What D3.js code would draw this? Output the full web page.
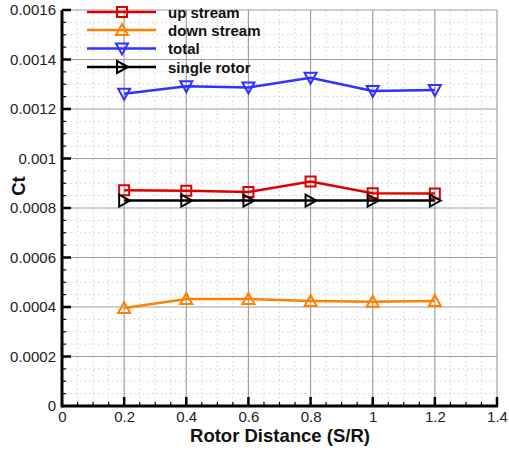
<!DOCTYPE html>
<html><head><meta charset="utf-8">
<script src="https://cdn.jsdelivr.net/npm/d3@7"></script>
<style>body{margin:0;background:#fff}svg{display:block}</style>
</head><body><svg id="c" width="509" height="450"></svg>
<script>
const distances = [0.2, 0.4, 0.6, 0.8, 1.0, 1.2];
const upStream = [0.000872, 0.000870, 0.000865, 0.000907, 0.000860, 0.000859];
const downStream = [0.000396, 0.000432, 0.000432, 0.000424, 0.000421, 0.000424];
const total = [0.001262, 0.001292, 0.001287, 0.001326, 0.001273, 0.001277];
const singleRotor = [0.00083, 0.00083, 0.00083, 0.00083, 0.00083, 0.00083];
const xTicks = [0, 0.2, 0.4, 0.6, 0.8, 1, 1.2, 1.4];
const yTicks = [0, 0.0002, 0.0004, 0.0006, 0.0008, 0.001, 0.0012, 0.0014, 0.0016];
const seriesNames = ["up stream", "down stream", "total", "single rotor"];
const seriesColors = ["#dd0000", "#ff8000", "#3030ff", "#000000"];
const seriesMarkers = ["square", "up", "down", "right"];

const svg = d3.select("#c");
const L = 62, R = 497, T = 10, B = 406;
const x = d3.scaleLinear().domain([0, 1.4]).range([L, R]);
const y = d3.scaleLinear().domain([0, 0.0016]).range([B, T]);
const FONT = "Liberation Sans, Arial, Helvetica, sans-serif";

// minor grid
const xMinor = d3.range(0, 1.4001, 0.05).filter(v => Math.abs(v/0.2 - Math.round(v/0.2)) > 1e-6);
const yMinor = d3.range(0, 0.0016001, 0.00005).filter(v => Math.abs(v/0.0002 - Math.round(v/0.0002)) > 1e-6);
const g = svg.append("g");
g.selectAll(".xm").data(xMinor).enter().append("line")
  .attr("x1", d => x(d)).attr("x2", d => x(d)).attr("y1", T).attr("y2", B)
  .attr("stroke", "#d0d0d0").attr("stroke-width", 1).attr("stroke-dasharray", "1.5,3");
g.selectAll(".ym").data(yMinor).enter().append("line")
  .attr("y1", d => y(d)).attr("y2", d => y(d)).attr("x1", L).attr("x2", R)
  .attr("stroke", "#d0d0d0").attr("stroke-width", 1).attr("stroke-dasharray", "1.5,3");
// major grid
g.selectAll(".xM").data(xTicks.slice(1)).enter().append("line")
  .attr("x1", d => x(d)).attr("x2", d => x(d)).attr("y1", T).attr("y2", B)
  .attr("stroke", "#a0a0a0").attr("stroke-width", 1.2);
g.selectAll(".yM").data(yTicks.slice(1)).enter().append("line")
  .attr("y1", d => y(d)).attr("y2", d => y(d)).attr("x1", L).attr("x2", R)
  .attr("stroke", "#a0a0a0").attr("stroke-width", 1.2);

// axes
const fmtY = d => d === 0 ? "0" : String(+d.toFixed(4));
const xAxis = d3.axisBottom(x).tickValues(xTicks).tickSize(0).tickPadding(5).tickFormat(d => String(+d.toFixed(1)));
const yAxis = d3.axisLeft(y).tickValues(yTicks).tickSize(0).tickPadding(6).tickFormat(fmtY);
const gx = svg.append("g").attr("transform", `translate(0,${B})`).call(xAxis);
const gy = svg.append("g").attr("transform", `translate(${L},0)`).call(yAxis);
[gx, gy].forEach(a => {
  a.select(".domain").remove();
  a.selectAll("text").attr("font-family", FONT).attr("font-size", 15).attr("fill", "#222");
});
// inward ticks
svg.selectAll(".xt").data(xTicks.slice(1)).enter().append("line")
  .attr("x1", d => x(d)).attr("x2", d => x(d)).attr("y1", B).attr("y2", B - 9).attr("stroke", "#000").attr("stroke-width", 2.5);
svg.selectAll(".xmt").data(xMinor).enter().append("line")
  .attr("x1", d => x(d)).attr("x2", d => x(d)).attr("y1", B).attr("y2", B - 4).attr("stroke", "#000").attr("stroke-width", 1.2);
svg.selectAll(".yt").data(yTicks.slice(1)).enter().append("line")
  .attr("y1", d => y(d)).attr("y2", d => y(d)).attr("x1", L).attr("x2", L + 9).attr("stroke", "#000").attr("stroke-width", 2.5);
svg.selectAll(".ymt").data(yMinor).enter().append("line")
  .attr("y1", d => y(d)).attr("y2", d => y(d)).attr("x1", L).attr("x2", L + 4).attr("stroke", "#000").attr("stroke-width", 1.2);
svg.append("line").attr("x1", L).attr("x2", R + 1).attr("y1", B).attr("y2", B).attr("stroke", "#000").attr("stroke-width", 3);
svg.append("line").attr("x1", L).attr("x2", L).attr("y1", T).attr("y2", B + 1.5).attr("stroke", "#000").attr("stroke-width", 3);

// titles
svg.append("text").attr("x", 280).attr("y", 442).attr("text-anchor", "middle")
  .attr("font-family", FONT).attr("font-weight", "bold").attr("font-size", 18.5).attr("fill", "#111")
  .text("Rotor Distance (S/R)");
svg.append("text").attr("transform", "translate(25,186) rotate(-90)").attr("text-anchor", "middle")
  .attr("font-family", FONT).attr("font-weight", "bold").attr("font-size", 18.5).attr("fill", "#111")
  .text("Ct");

function marker(sel, type, color) {
  const s = 5;
  let p;
  if (type === "square") p = `M${-s},${-s}H${s}V${s}H${-s}Z`;
  else if (type === "up") p = `M0,${-s-1}L${s+1},${s}L${-s-1},${s}Z`;
  else if (type === "down") p = `M0,${s+1}L${s+1},${-s}L${-s-1},${-s}Z`;
  else p = `M${s+1},0L${-s},${-s-1}L${-s},${s+1}Z`;
  sel.append("path").attr("d", p).attr("fill", "none").attr("stroke", color).attr("stroke-width", 2);
}

const allSeries = [upStream, downStream, total, singleRotor];
const line = d3.line().x((d, i) => x(distances[i])).y(d => y(d));
allSeries.forEach((vals, k) => {
  svg.append("path").datum(vals).attr("d", line).attr("fill", "none")
    .attr("stroke", seriesColors[k]).attr("stroke-width", 2.5);
  vals.forEach((v, i) => {
    const mg = svg.append("g").attr("transform", `translate(${x(distances[i])},${y(v)})`);
    marker(mg, seriesMarkers[k], seriesColors[k]);
  });
});

// legend
const legY = [12, 30, 48.5, 67];
seriesNames.forEach((n, k) => {
  svg.append("line").attr("x1", 87).attr("x2", 156).attr("y1", legY[k]).attr("y2", legY[k])
    .attr("stroke", seriesColors[k]).attr("stroke-width", 2.5);
  const mg = svg.append("g").attr("transform", `translate(122,${legY[k]})`);
  marker(mg, seriesMarkers[k], seriesColors[k]);
  svg.append("text").attr("x", 168).attr("y", legY[k] + 5.5).attr("font-family", FONT)
    .attr("font-weight", "bold").attr("font-size", 15).attr("fill", "#111").text(n);
});
</script></body></html>
